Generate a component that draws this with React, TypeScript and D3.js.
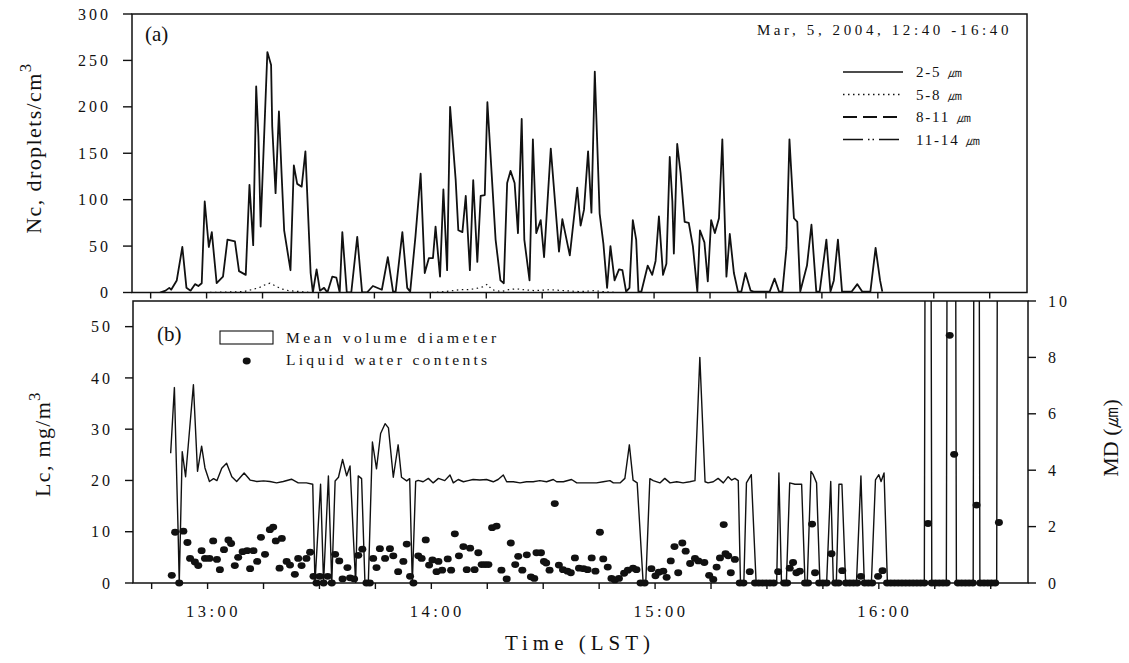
import React from "react";
import * as d3 from "d3";

// time axis: minutes after 12:40 LST (Mar 5, 2004)
const ncMinutes = [7.5, 9, 10, 10.5, 12, 13.5, 14.6, 15.7, 16.9, 17.8, 18.7, 19.5, 20.6, 21.4, 22.7, 24.4, 25.6, 27.6, 28.7, 30.5, 31.5, 32.5, 33.3, 33.9, 34.5, 36.3, 37.3, 37.6, 38.5, 39.4, 40.1, 40.8, 42.5, 43.4, 44.3, 45.5, 46.5, 47.9, 48.5, 49.5, 50.4, 51.5, 52.4, 53.7, 54.8, 55.7, 56.4, 57.6, 58.8, 60.4, 61.7, 63, 64.6, 67, 68.6, 70, 70.7, 72.5, 73.8, 74.6, 76, 77.4, 78.5, 79.6, 80.7, 81.4, 82.6, 83.5, 84.5, 85.3, 86.8, 87.5, 88.6, 89.5, 90.6, 91.5, 92.6, 93.5, 94.6, 95.3, 97.5, 98.8, 99.7, 100.6, 101.5, 102.6, 103.5, 104.5, 105.2, 106.6, 107.5, 108.4, 109.6, 110.5, 112.3, 114.5, 115.4, 117.4, 119.4, 120.3, 121.2, 122.3, 123.2, 124.1, 125.4, 126.4, 127.4, 128.3, 129.4, 130.6, 131.5, 132.5, 133.4, 134.3, 135.2, 135.8, 136.6, 138.3, 139.5, 140.4, 141.3, 142.4, 143.3, 144.2, 144.9, 145.3, 146.2, 147.1, 148.2, 149.3, 150.4, 151.6, 152.3, 153.5, 154.4, 155.3, 156.3, 157.4, 158.3, 159.4, 160.3, 161.4, 162.5, 163.4, 164.5, 165.9, 166.7, 171, 172.3, 173.5, 174.4, 175.5, 176.3, 177.5, 178.4, 179.2, 181, 182.2, 183.5, 184.4, 186.2, 187.3, 188.2, 189.3, 190.4, 193, 194.5, 195.8, 198, 199.4, 200.6, 201.2];
const nc2to5 = [0, 2, 5, 3, 13, 49, 5, 2, 9, 7, 10, 98, 49, 65, 10, 17, 57, 55, 23, 19, 116, 51, 222, 168, 71, 259, 245, 179, 107, 195, 129, 67, 24, 137, 117, 114, 152, 21, 0, 25, 2, 5, 0, 17, 16, 0, 65, 0, 0, 60, 0, 0, 7, 3, 38, 1, 1, 65, 5, 1, 60, 128, 21, 37, 37, 71, 17, 111, 24, 200, 121, 67, 65, 104, 24, 121, 33, 104, 105, 205, 57, 13, 10, 118, 131, 118, 64, 187, 57, 13, 165, 64, 78, 38, 155, 44, 79, 40, 113, 72, 89, 152, 86, 238, 85, 53, 5, 50, 13, 25, 24, 1, 5, 78, 57, 1, 1, 29, 19, 34, 82, 19, 31, 146, 98, 42, 160, 129, 76, 75, 50, 1, 67, 54, 12, 78, 64, 80, 165, 17, 63, 21, 1, 1, 21, 2, 1, 1, 15, 1, 1, 48, 165, 80, 76, 1, 29, 73, 1, 1, 57, 1, 13, 57, 1, 1, 9, 1, 1, 48, 13, 1];

const nc5to8Minutes = [7.5, 20, 30, 32, 34, 35.5, 37, 38.5, 40, 42, 45, 48, 60, 70, 80, 84, 86, 88, 90, 92, 94, 95.3, 96.5, 99, 101, 103, 105, 108, 112, 116, 120, 124, 126, 130, 140, 160, 180, 201];
const nc5to8 = [0, 0, 1, 3, 5, 8, 10, 7, 4, 2, 1, 0, 0, 0, 0, 1, 2, 3, 3, 4, 6, 9, 3, 1, 3, 4, 3, 2, 3, 2, 1, 2, 1, 0, 0, 0, 0, 0];

const mvdMinutes = [10.1, 11.1, 12.1, 12.4, 13.2, 14.1, 16.2, 17.3, 18.4, 19.3, 20.5, 21.6, 22.5, 23.8, 25.1, 26.5, 27.8, 29.8, 31.4, 33.2, 35, 36.7, 38.5, 40.3, 42.5, 44.3, 46.5, 48.2, 48.8, 50.3, 51.1, 52.4, 53.3, 54.2, 55.1, 56.2, 57.3, 58.2, 59.2, 59.7, 60.4, 61.3, 62.2, 63.1, 64.2, 65.3, 66.4, 67.6, 68.5, 69.8, 71.1, 72, 73.4, 74.2, 74.9, 75.8, 76.5, 77.8, 79.2, 80.5, 81.9, 83.6, 85, 85.9, 87.2, 88.6, 89.9, 91.2, 93, 94.8, 96.6, 97.9, 99.3, 100.2, 102, 103.8, 105.5, 107.3, 109.1, 110.9, 112.7, 113.6, 115.4, 117.6, 119, 121.6, 124.3, 126.1, 127.9, 128.8, 130.6, 131.9, 133.1, 134.1, 135.2, 136.8, 137.5, 138.6, 139.5, 141.3, 142.6, 144, 145.8, 147.5, 149.3, 150.7, 152, 153.4, 154.2, 155.6, 156.9, 158.3, 159.6, 160.5, 161.4, 162.3, 162.9, 163.8, 164.5, 165.8, 167.1, 172.6, 173.2, 173.9, 175.2, 176.1, 177.5, 179.3, 180.2, 180.8, 181.8, 182.4, 183.3, 184.2, 186, 187.1, 187.8, 188.6, 189.3, 190.1, 191.1, 194, 195.2, 196.1, 198, 199.1, 200, 200.6, 201.4, 202.3, 212.2, 213.2, 214.2, 218.1, 219.1, 219.8, 220.8, 225.3, 226.2, 227.1, 231.6, 232.5];
const mvd = [4.6, 6.93, 1.8, 0, 4.66, 3.77, 7.03, 3.96, 4.85, 4.08, 3.6, 3.7, 3.63, 4.07, 4.25, 3.77, 3.6, 3.9, 3.65, 3.6, 3.62, 3.6, 3.55, 3.6, 3.68, 3.55, 3.55, 3.5, 0, 3.5, 0, 3.8, 0, 3.62, 3.75, 4.38, 3.8, 4.15, 1.35, 0, 3.8, 3.7, 0, 0, 5.0, 4.05, 5.3, 5.65, 5.5, 3.75, 4.9, 3.75, 3.62, 3.7, 0, 3.6, 3.64, 3.59, 3.71, 3.55, 3.71, 3.63, 3.83, 3.55, 3.67, 3.59, 3.63, 3.67, 3.65, 3.67, 3.59, 3.67, 3.83, 3.59, 3.59, 3.55, 3.59, 3.59, 3.63, 3.59, 3.67, 3.59, 3.59, 3.67, 3.55, 3.55, 3.55, 3.59, 3.63, 3.55, 3.55, 3.71, 4.9, 3.65, 3.55, 0, 0, 3.7, 3.63, 3.55, 3.71, 3.55, 3.59, 3.55, 3.59, 3.63, 8.0, 3.59, 3.55, 3.59, 3.71, 3.55, 3.77, 3.65, 3.71, 3.63, 0, 0, 3.55, 3.84, 0, 0, 3.9, 0, 0, 3.55, 3.5, 3.5, 0, 0, 3.96, 3.84, 3.55, 0, 0, 3.6, 0, 0, 3.5, 3.5, 0, 0, 3.8, 0, 0, 3.66, 3.84, 3.6, 3.9, 0, 0, 60, 0, 0, 60, 60, 0, 0, 60, 0, 0, 60];

const lcMinutes = [10.4, 11.3, 12.4, 13.5, 14.6, 15.3, 16.6, 17.5, 18.4, 19.3, 20.5, 21.5, 22.5, 23.3, 24.4, 25.6, 26.3, 27.3, 28.2, 29.4, 30.6, 31.4, 32.3, 33.3, 34.3, 35.4, 36.7, 37.6, 38.3, 39.3, 39.9, 41.2, 42.1, 43.4, 44.3, 45.2, 46.5, 47.5, 48.4, 49.2, 50.1, 51.1, 52.2, 53.3, 54.2, 55.3, 56.2, 57.5, 58.2, 59.3, 60.4, 61.5, 62.6, 63.5, 64.4, 65.3, 66.2, 67.6, 68.9, 69.8, 71.1, 72.5, 73.4, 74.3, 75.2, 76.5, 77.4, 78.5, 79.4, 80.3, 81.4, 81.9, 82.9, 84.4, 85.3, 86.3, 87.4, 88.6, 89.5, 90.4, 91.6, 92.6, 93.5, 94.4, 95.3, 96.3, 97.5, 98.8, 100.2, 101.3, 102.5, 103.3, 104.4, 105.6, 106.7, 107.6, 108.2, 109.4, 110.2, 110.8, 111.7, 113.1, 114.2, 115.3, 116.5, 117.4, 118.5, 119.6, 120.8, 121.9, 123, 124, 125.2, 126.1, 127.3, 128.3, 129.2, 130.3, 131.7, 132.7, 134.1, 135, 136.1, 137.2, 139, 140.1, 141, 142.2, 143.1, 144.2, 145.2, 146.2, 147.3, 148.2, 149.4, 150.7, 151.6, 153.2, 154.5, 155.6, 156.5, 157.4, 158.4, 158.9, 159.6, 160.3, 161.4, 162.7, 163.7, 165.4, 166.8, 167.8, 168.8, 169.8, 170.8, 171.8, 173, 174.6, 175.4, 176.1, 177, 177.9, 178.8, 180.2, 181, 182.1, 182.9, 184, 185, 186, 187.3, 188.3, 189.2, 190.2, 191.2, 192.2, 193.2, 194.2, 195.2, 196.2, 197.2, 198.2, 199.8, 201, 202.2, 203.2, 204.2, 205.2, 206.2, 207.2, 208.2, 209.2, 210.2, 211.2, 212.2, 213.2, 214.2, 215.2, 216.2, 217.2, 218.2, 219, 220.2, 221.2, 222.2, 223.2, 224.2, 225.2, 226.2, 227.2, 228.2, 229.2, 230.2, 231.2, 232.2];
const lc = [1.5, 9.9, 0, 10.1, 7.9, 4.8, 4.1, 3.4, 6.3, 4.8, 4.8, 8.2, 4.6, 2.6, 6.5, 8.4, 7.7, 3.4, 5.0, 6.1, 6.3, 2.8, 6.3, 4.2, 8.9, 5.6, 10.4, 10.9, 8.2, 2.9, 8.7, 4.2, 3.5, 1.7, 4.8, 3.4, 4.8, 6.0, 1.3, 0, 1.3, 0, 1.3, 0, 5.6, 4.3, 0.8, 3.0, 1.0, 0.8, 5.4, 6.6, 0, 0, 4.8, 3.0, 6.7, 4.8, 6.7, 5.3, 2.2, 4.2, 7.6, 1.3, 0, 5.3, 4.8, 8.4, 3.5, 4.5, 2.2, 4.2, 2.5, 4.7, 2.5, 9.6, 5.3, 7.1, 2.6, 6.8, 2.6, 5.9, 3.6, 3.6, 3.6, 10.8, 11.1, 2.5, 0.8, 7.8, 3.6, 5.2, 2.5, 5.5, 1.2, 0.9, 5.9, 5.9, 4.2, 3.9, 2.5, 15.5, 3.5, 2.6, 2.3, 2.0, 4.9, 2.9, 2.8, 2.6, 4.9, 2.3, 9.9, 4.7, 3.1, 0.9, 0.6, 0.9, 1.9, 2.5, 2.9, 2.6, 0, 0, 2.8, 1.4, 2.1, 2.3, 1.1, 4.3, 7.1, 2.0, 7.8, 6.2, 3.8, 4.8, 4.3, 4.0, 1.5, 0.7, 3.1, 4.9, 11.4, 5.7, 5.3, 2.0, 4.6, 0, 0, 2.2, 0, 0, 0, 0, 0, 0, 2.2, 0, 0, 2.9, 4.0, 2.0, 2.3, 0, 0, 11.5, 2.0, 0, 0, 0, 5.7, 0, 0, 2.4, 0, 0, 0, 0, 1.3, 0, 0, 0, 1.3, 2.4, 0, 0, 0, 0, 0, 0, 0, 0, 0, 0, 0, 11.6, 0, 0, 0, 0, 0, 48.3, 25.1, 0, 0, 0, 0, 0, 15.2, 0, 0, 0, 0, 0, 11.8];

const xTickMinutes = [5, 20, 35, 50, 65, 80, 95, 110, 125, 140, 155, 170, 185, 200, 215, 230];
const xLabelMinutes = [20, 80, 140, 200];
const xLabels = ["13:00", "14:00", "15:00", "16:00"];
const ncTicks = [0, 50, 100, 150, 200, 250, 300];
const lcTicks = [0, 10, 20, 30, 40, 50];
const mdTicks = [0, 2, 4, 6, 8, 10];
const sizeBins = ["2-5 ㎛", "5-8 ㎛", "8-11 ㎛", "11-14 ㎛"];
const binDash = ["none", "1.5,3.5", "14,6", "20,5,1.5,3,1.5,5"];

const FONT = "'Liberation Serif', 'Times New Roman', serif";
const INK = "#111";

export default function App() {
  const xA = d3.scaleLinear().domain([0, 240]).range([132, 1027]);
  const xB = d3.scaleLinear().domain([0, 240]).range([133, 1028]);
  const yA = d3.scaleLinear().domain([0, 300]).range([292.5, 14]);
  const yL = d3.scaleLinear().domain([0, 55]).range([583, 301]);
  const yR = d3.scaleLinear().domain([0, 10]).range([583, 301]);

  const lineA = d3.line<number>().x((_, i) => xA(ncMinutes[i])).y((d) => yA(d));
  const lineA2 = d3.line<number>().x((_, i) => xA(nc5to8Minutes[i])).y((d) => yA(d));
  const lineMvd = d3.line<number>().x((_, i) => xB(mvdMinutes[i])).y((d) => yR(d));

  const [ax0, ax1] = xA.range();
  const [bx0, bx1] = xB.range();
  const n = Math.min(lc.length, lcMinutes.length);

  return (
    <svg width={1129} height={663} style={{ position: "absolute", left: 0, top: 0, background: "#fff" }} fontFamily={FONT}>
      <defs>
        <clipPath id="clipB">
          <rect x={bx0} y={yL.range()[1]} width={bx1 - bx0} height={yL.range()[0] - yL.range()[1]} />
        </clipPath>
        <clipPath id="clipA">
          <rect x={ax0} y={yA.range()[1]} width={ax1 - ax0} height={yA.range()[0] - yA.range()[1]} />
        </clipPath>
      </defs>

      {/* ---------- Panel (a) ---------- */}
      <g clipPath="url(#clipA)">
        <path d={lineA2(nc5to8) || ""} fill="none" stroke={INK} strokeWidth={1.2} strokeDasharray="1.5,3.5" />
        <path d={lineA(nc2to5) || ""} fill="none" stroke={INK} strokeWidth={1.8} strokeLinejoin="round" />
      </g>
      <rect x={ax0} y={yA(300)} width={ax1 - ax0} height={yA(0) - yA(300)} fill="none" stroke={INK} strokeWidth={1.5} />
      {ncTicks.map((t) => (
        <g key={"na" + t}>
          <line x1={ax0 - 9} x2={ax0} y1={yA(t)} y2={yA(t)} stroke={INK} strokeWidth={1.4} />
          <text x={ax0 - 21} y={yA(t)} dy="0.35em" textAnchor="end" fontSize={16} letterSpacing={3} fill={INK}>{t}</text>
        </g>
      ))}
      {xTickMinutes.map((m) => (
        <line key={"xa" + m} x1={xA(m)} x2={xA(m)} y1={yA(0)} y2={yA(0) + 6} stroke={INK} strokeWidth={1.4} />
      ))}
      <text x={145} y={41} fontSize={21} fill={INK}>(a)</text>
      <text x={1012} y={35} textAnchor="end" fontSize={15} letterSpacing={3.6} fill={INK}>Mar, 5, 2004, 12:40 -16:40</text>
      {sizeBins.map((s, i) => (
        <g key={s}>
          <line x1={843} x2={903} y1={72 + i * 22.5} y2={72 + i * 22.5} stroke={INK}
            strokeWidth={i === 2 ? 1.8 : 1.3} strokeDasharray={binDash[i]} />
          <text x={916} y={72 + i * 22.5} dy="0.35em" fontSize={15} letterSpacing={1.8} fill={INK}>{s}</text>
        </g>
      ))}
      <text transform="translate(41,148) rotate(-90)" textAnchor="middle" fontSize={22} letterSpacing={1.4} fill={INK}>
        Nc, droplets/cm<tspan dy={-10} fontSize={17}>3</tspan>
      </text>

      {/* ---------- Panel (b) ---------- */}
      <g clipPath="url(#clipB)">
        <path d={lineMvd(mvd) || ""} fill="none" stroke={INK} strokeWidth={1.4} strokeLinejoin="round" />
      </g>
      {lc.slice(0, n).map((v, i) => (
        <ellipse key={"lc" + i} cx={xB(lcMinutes[i])} cy={yL(v)} rx={4} ry={3.4} fill={INK} />
      ))}
      <rect x={bx0} y={yL(55)} width={bx1 - bx0} height={yL(0) - yL(55)} fill="none" stroke={INK} strokeWidth={1.5} />
      {lcTicks.map((t) => (
        <g key={"lb" + t}>
          <line x1={bx0 - 8} x2={bx0} y1={yL(t)} y2={yL(t)} stroke={INK} strokeWidth={1.4} />
          <text x={bx0 - 20} y={yL(t)} dy="0.35em" textAnchor="end" fontSize={16} letterSpacing={3} fill={INK}>{t}</text>
        </g>
      ))}
      {mdTicks.map((t) => (
        <g key={"rb" + t}>
          <line x1={bx1} x2={bx1 + 8} y1={yR(t)} y2={yR(t)} stroke={INK} strokeWidth={1.4} />
          <text x={bx1 + 20} y={yR(t)} dy="0.35em" textAnchor="start" fontSize={16} letterSpacing={3} fill={INK}>{t}</text>
        </g>
      ))}
      {xTickMinutes.map((m) => (
        <line key={"xb" + m} x1={xB(m)} x2={xB(m)} y1={yL(0)} y2={yL(0) + 6} stroke={INK} strokeWidth={1.4} />
      ))}
      {xLabelMinutes.map((m, i) => (
        <text key={"xl" + m} x={xB(m) + 6} y={617} textAnchor="middle" fontSize={16.5} letterSpacing={3.5} fill={INK}>{xLabels[i]}</text>
      ))}
      <text x={157} y={341} fontSize={21} fill={INK}>(b)</text>
      <rect x={220} y={331} width={53} height={13} fill="none" stroke={INK} strokeWidth={1.1} />
      <text x={286} y={343} fontSize={15.5} letterSpacing={3.5} fill={INK}>Mean volume diameter</text>
      <ellipse cx={246.7} cy={361} rx={4} ry={3.4} fill={INK} />
      <text x={286} y={365} fontSize={15.5} letterSpacing={3.3} fill={INK}>Liquid water contents</text>
      <text transform="translate(50,444) rotate(-90)" textAnchor="middle" fontSize={22} letterSpacing={1.3} fill={INK}>
        Lc, mg/m<tspan dy={-10} fontSize={17}>3</tspan>
      </text>
      <text transform="translate(1118,438) rotate(-90)" textAnchor="middle" fontSize={22} fill={INK}>MD (㎛)</text>
      <text x={580} y={650} textAnchor="middle" fontSize={21} letterSpacing={5} fill={INK}>Time (LST)</text>
    </svg>
  );
}
